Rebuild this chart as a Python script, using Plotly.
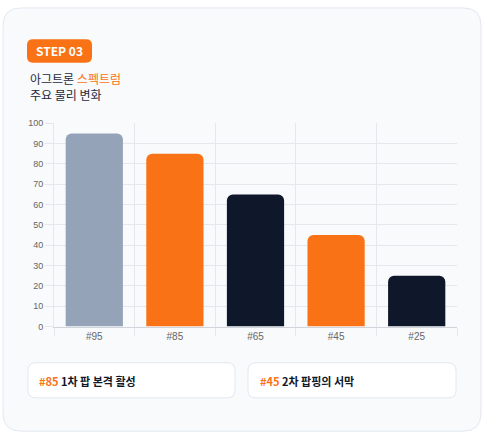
import plotly.graph_objects as go

labels = ['#95', '#85', '#65', '#45', '#25']
values = [95, 85, 65, 45, 25]
colors = ['#94A3B8', '#F97316', '#0F172A', '#F97316', '#0F172A']

W, H = 486, 442
FONT = 'Noto Sans CJK KR'


def px(x):
    return x / W


def py(y):
    return 1 - y / H


def rounded(x0, y0, x1, y1, r):
    # rounded rect path in paper coords from pixel box
    pts = [
        f'M {px(x0 + r)},{py(y0)}', f'L {px(x1 - r)},{py(y0)}',
        f'Q {px(x1)},{py(y0)} {px(x1)},{py(y0 + r)}', f'L {px(x1)},{py(y1 - r)}',
        f'Q {px(x1)},{py(y1)} {px(x1 - r)},{py(y1)}', f'L {px(x0 + r)},{py(y1)}',
        f'Q {px(x0)},{py(y1)} {px(x0)},{py(y1 - r)}', f'L {px(x0)},{py(y0 + r)}',
        f'Q {px(x0)},{py(y0)} {px(x0 + r)},{py(y0)}', 'Z']
    return ' '.join(pts)


fig = go.Figure(go.Bar(
    x=list(range(len(values))), y=values,
    marker=dict(color=colors, cornerradius=6, line=dict(width=0)),
    width=0.71, hoverinfo='skip'))

shapes = [
    dict(type='path', xref='paper', yref='paper', path=rounded(3, 3, 481, 436, 18),
         fillcolor='#F8FAFC', line=dict(color='#E2E8F0', width=1), layer='below'),
    dict(type='path', xref='paper', yref='paper', path=rounded(27, 35, 92, 59, 6),
         fillcolor='#F97316', line=dict(width=0)),
    dict(type='path', xref='paper', yref='paper', path=rounded(28, 366, 235, 402, 8),
         fillcolor='white', line=dict(color='#E2E8F0', width=1)),
    dict(type='path', xref='paper', yref='paper', path=rounded(248, 366, 456, 402, 8),
         fillcolor='white', line=dict(color='#E2E8F0', width=1)),
]

ann = [
    dict(x=px(59.5), y=py(47), text='<b>STEP 03</b>', font=dict(color='white', size=12)),
    dict(x=px(28), y=py(75), xanchor='left', font=dict(size=12, color='#1E293B'),
         text='아그트론 <span style="color:#F97316">스펙트럼</span>'),
    dict(x=px(28), y=py(92), xanchor='left', font=dict(size=12, color='#1E293B'),
         text='주요 물리 변화'),
    dict(x=px(37), y=py(385), xanchor='left', font=dict(size=11, color='#111827'),
         text='<b><span style="color:#F97316">#85</span> 1차 팝 본격 활성</b>'),
    dict(x=px(258), y=py(385), xanchor='left', font=dict(size=11, color='#111827'),
         text='<b><span style="color:#F97316">#45</span> 2차 팝핑의 서막</b>'),
]
for a in ann:
    a.update(xref='paper', yref='paper', showarrow=False, yanchor='middle')
    a.setdefault('xanchor', 'center')
    a['font'].setdefault('family', FONT)

fig.update_layout(
    width=W, height=H, margin=dict(l=0, r=0, t=0, b=0),
    paper_bgcolor='white', plot_bgcolor='rgba(0,0,0,0)',
    shapes=shapes, annotations=ann, showlegend=False, bargap=0.29,
    font=dict(family='Liberation Sans', size=10, color='#666666'),
    xaxis=dict(domain=[px(54), px(457)], range=[-0.5, 4.5],
               tickvals=list(range(5)), ticktext=labels, showgrid=False,
               ticks='', showline=True, linecolor='#D1D5DB', zeroline=False,
               minor=dict(tickvals=[-0.5, 0.5, 1.5, 2.5, 3.5, 4.5], showgrid=True,
                          gridcolor='#E5E7EB', ticks='outside', ticklen=8,
                          tickcolor='#E5E7EB')),
    yaxis=dict(domain=[py(329), py(121)], range=[0, 100], dtick=10,
               gridcolor='#E5E7EB', zeroline=False, ticks='outside', ticklen=8,
               tickcolor='#E5E7EB', showline=True, linecolor='#E5E7EB',
               tickfont=dict(size=9, color='#666666')),
)

fig.write_html('out.html', config={'displayModeBar': False},
               post_script="document.body.style.margin='0';document.body.style.overflow='hidden';")
